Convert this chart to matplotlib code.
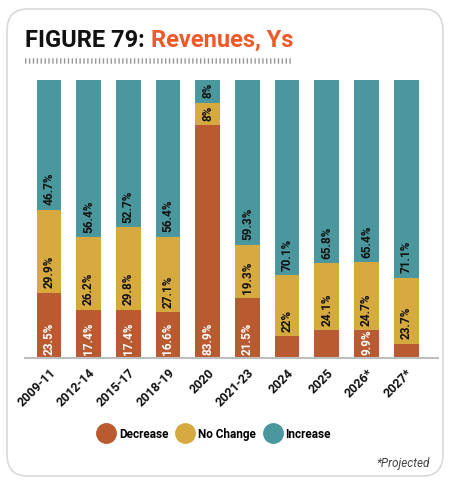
import numpy as np
import matplotlib.pyplot as plt
from matplotlib.patches import FancyBboxPatch
from matplotlib.lines import Line2D

periods = ['2009-11', '2012-14', '2015-17', '2018-19', '2020', '2021-23',
           '2024', '2025', '2026*', '2027*']
decrease = [23.5, 17.4, 17.4, 16.6, 83.9, 21.5, 7.9, 10.1, 9.9, 5.2]
no_change = [29.9, 26.2, 29.8, 27.1, 8, 19.3, 22, 24.1, 24.7, 23.7]
increase = [46.7, 56.4, 52.7, 56.4, 8, 59.3, 70.1, 65.8, 65.4, 71.1]
decrease_lbl = ['23.5%', '17.4%', '17.4%', '16.6%', '83.9%', '21.5%', None, None, '9.9%', None]
no_change_lbl = ['29.9%', '26.2%', '29.8%', '27.1%', '8%', '19.3%', '22%', '24.1%', '24.7%', '23.7%']
increase_lbl = ['46.7%', '56.4%', '52.7%', '56.4%', '8%', '59.3%', '70.1%', '65.8%', '65.4%', '71.1%']

c_dec = '#b95a30'
c_nc = '#d6aa3e'
c_inc = '#4a989e'

fig = plt.figure(figsize=(4.5, 4.86), dpi=100)

# card background
card = FancyBboxPatch((7 / 450, 10 / 486), 436 / 450, 467 / 486,
                      boxstyle='round,pad=0,rounding_size=0.045',
                      transform=fig.transFigure, facecolor='white',
                      edgecolor='#d9d9d9', linewidth=1.2, zorder=-5)
fig.patches.append(card)

# title
t1 = fig.text(25 / 450, 1 - 47 / 486, 'FIGURE 79: ', fontsize=17, fontweight='bold',
              color='#111111', family='Roboto', va='baseline')
fig.canvas.draw()
bb = t1.get_window_extent()
fig.text(bb.x1 / 450, 1 - 47 / 486, 'Revenues, Ys', fontsize=17, fontweight='bold',
         color='#f05a28', family='Roboto', va='baseline')
fig.add_artist(Line2D([25 / 450, 293 / 450], [1 - 61 / 486, 1 - 61 / 486],
                      transform=fig.transFigure, color='#9a9a9a', linewidth=4,
                      dashes=(0.25, 0.45)))

ax = fig.add_axes([25 / 450, 1 - 358 / 486, 413 / 450, 278 / 486])
x = np.arange(len(periods))
w = 0.62
dec = np.array(decrease)
nc = np.array(no_change)
inc = np.array(increase)
ax.bar(x, dec, w, color=c_dec)
ax.bar(x, nc, w, bottom=dec, color=c_nc)
ax.bar(x, inc, w, bottom=dec + nc, color=c_inc)

lab_kw = dict(rotation=90, ha='center', va='bottom', fontsize=8.5, fontweight='bold',
              family='Roboto')
for i in range(len(periods)):
    if decrease_lbl[i]:
        ax.text(x[i], 1.2, decrease_lbl[i], color='white', **lab_kw)
    ax.text(x[i], dec[i] + 1.5, no_change_lbl[i], color='#111111', **lab_kw)
    ax.text(x[i], dec[i] + nc[i] + 1.5, increase_lbl[i], color='#111111', **lab_kw)

ax.set_xlim(-0.6, 9.8)
ax.set_ylim(0, 100)
ax.set_yticks([])
ax.set_xticks(x)
ax.set_xticklabels(periods, rotation=45, ha='right', rotation_mode='anchor',
                   fontsize=9, fontweight='bold', family='Roboto', color='#111111')
ax.tick_params(axis='x', length=0, pad=6)
for s in ['top', 'left', 'right']:
    ax.spines[s].set_visible(False)
ax.spines['bottom'].set_color('#bdbdbd')
ax.spines['bottom'].set_linewidth(1.5)
ax.patch.set_alpha(0)

handles = [Line2D([], [], marker='o', linestyle='', markersize=14, color=c)
           for c in [c_dec, c_nc, c_inc]]
fig.legend(handles, ['Decrease', 'No Change', 'Increase'], loc='center',
           bbox_to_anchor=(0.478, 1 - 434 / 486), ncol=3, frameon=False,
           prop={'family': 'Roboto', 'weight': 'bold', 'size': 8.5},
           handletextpad=0.5, columnspacing=0.8, handlelength=1.2)

fig.text(430 / 450, 1 - 463 / 486, '*Projected', fontsize=8.5, style='italic',
         color='#444444', family='Roboto', ha='right', va='center')

fig.savefig('out.png', dpi=100)
